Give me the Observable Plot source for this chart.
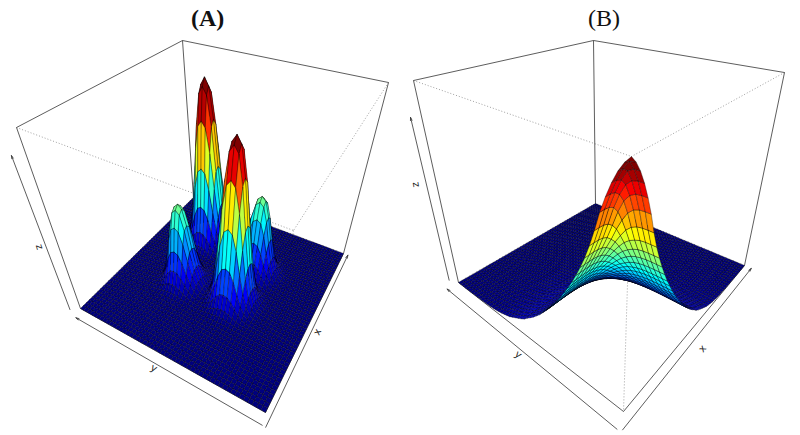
<!DOCTYPE html>
<html><head><meta charset="utf-8">
<script src="https://cdn.jsdelivr.net/npm/d3@7"></script>
<script src="https://cdn.jsdelivr.net/npm/@observablehq/plot@0.6"></script>
<style>
html,body{margin:0;padding:0;background:#fff;overflow:hidden}
#wrap{position:relative;width:800px;height:435px}
.panel{position:absolute;top:0;width:400px;height:435px}
.title{position:absolute;top:2px;font:24px "Liberation Serif",serif;color:#111;line-height:32px;height:36px}
.panel svg{position:absolute;top:36px;left:0;background:transparent}
</style></head><body><div id="wrap"></div>
<script>
// Jet ramp
const jet = ["#00007F","#0000FF","#007FFF","#00FFFF","#7FFF7F","#FFFF00","#FF7F00","#FF0000","#7F0000"];

// Panel titles
const titles = ["(A)", "(B)"];
const titleLeft = [191, 588];
const titleWeight = ["bold", "normal"];
const colorTop = [0.85, 0.92];

// Box calibration: corners in order back, right, front, left (page pixels)
const topA = [[182,40],[388,82],[293,230],[16,127]];
const botA = [[193,197],[343,253],[265,412],[80,308]];
const topB = [[593,40],[784,72],[631,156],[413,80]];
const botB = [[595,203],[744,265],[623,411],[458,282]];

// Panel A: mesh size and the four read peaks (row, column in cells, height)
const meshA = 50;
const peakRow = [14, 29, 30, 18];
const peakCol = [15, 31, 17, 32];
const peakHeight = [0.97, 0.92, 0.43, 0.43];
// slice through a peak, cells away from its crest
const peakSlice = [1, 0.95, 0.75, 0.47, 0.25, 0.11, 0.04, 0.014, 0.004];

// Panel B: mesh size and the slice read along the front edges, starting at the crest
const meshB = 50;
const sliceB = [1,.96,.9,.82,.73,.625,.54,.475,.42,.37,.33,.29,.255,.225,.195,.17,.145,.125,.105,.09,.072,.06,.05,.04,.03,.024,.018,.013,.01,.007,.005,.004,.003,.002,.001,.001,0,0,0,0,0];
const contourPower = [4];
const edgeStretch = [1.04, 1];

// Box edges in unit coordinates [a,b,z] -> [a,b,z]
const solidEdges = [[0,0,1,1,0,1],[0,0,1,0,1,1],[1,0,1,1,0,0],[0,1,1,0,1,0],[0,0,1,0,0,0],[1,0,0,1,1,0],[0,1,0,1,1,0]];
const dottedEdges = [[1,0,1,1,1,1],[0,1,1,1,1,1],[1,1,1,1,1,0]];

// Axis arrows and labels in unit coordinates (tail -> head)
const arrowsA = [[1.05,1.01,0,1.05,.02,0],[1.05,1.025,0,.0,1.025,0],[1.03,-.04,0,1.03,-.04,.85]];
const arrowsB = [[1.06,1.02,0,1.06,0,0],[1.05,1.035,0,0,1.035,0],[1.02,-.05,0,1.02,-.05,.81]];
const labelsA = [{t:"y",p:[1.07,.5,0],r:29},{t:"x",p:[.55,1.05,0],r:-65},{t:"z",p:[1.05,-.06,.35],r:-108}];
const labelsB = [{t:"y",p:[1.08,.55,0],r:38},{t:"x",p:[.6,1.08,0],r:-50},{t:"z",p:[1.03,-.135,.45],r:-100}];

function homography(q){
  const [[x0,y0],[x1,y1],[x2,y2],[x3,y3]] = q;
  const dx1=x1-x2,dx2=x3-x2,sx=x0-x1+x2-x3,dy1=y1-y2,dy2=y3-y2,sy=y0-y1+y2-y3;
  const den=dx1*dy2-dx2*dy1, g=(sx*dy2-dx2*sy)/den, h=(dx1*sy-sx*dy1)/den;
  const A=x1-x0+g*x1,B=x3-x0+h*x3,D=y1-y0+g*y1,E=y3-y0+h*y3;
  return (u,v)=>{const w=g*u+h*v+1;return [(A*u+B*v+x0)/w,(D*u+E*v+y0)/w];};
}
function projector(top,bot){
  const T=homography(top),B=homography(bot);
  return (a,b,z)=>{const t=T(b,a),s=B(b,a);return [s[0]+(t[0]-s[0])*z,s[1]+(t[1]-s[1])*z];};
}
function heightA(i,j){
  let v=0;
  peakRow.forEach((r,k)=>{
    const di=Math.abs(i-r),dj=Math.abs(j-peakCol[k]);
    if(di<peakSlice.length&&dj<peakSlice.length) v=Math.max(v,peakHeight[k]*peakSlice[di]*peakSlice[dj]);
  });
  return v;
}
// Table lookup of the read slice: each cell takes the slice value at its
// distance from the crest corner, the contours of the surface being rounded squares.
function heightB(i,j){
  const p=contourPower[0], n=sliceB.length-1;
  const d=Math.pow(Math.pow((meshB-i)*edgeStretch[0],p)+Math.pow((meshB-j)*edgeStretch[1],p),1/p)*n/meshB;
  const k=Math.min(Math.floor(d),n-1);
  return sliceB[k]+(sliceB[k+1]-sliceB[k])*Math.min(d-k,1);
}

function facets(mesh,zf,proj){
  const out=[];let id=0;
  for(let i=0;i<mesh;i++)for(let j=0;j<mesh;j++){
    const c=[[i,j],[i+1,j],[i+1,j+1],[i,j+1]];
    const zs=c.map(([p,q])=>zf(p,q));
    const v=d3.mean(zs);
    [0,1,2,3,0].forEach(k=>{
      const [x,y]=proj(c[k][0]/mesh,c[k][1]/mesh,zs[k]);
      out.push({x,y,id,v});
    });
    id++;
  }
  return out;
}
function links(list,proj){
  return list.map(e=>{const p=proj(e[0],e[1],e[2]),q=proj(e[3],e[4],e[5]);return {x1:p[0],y1:p[1],x2:q[0],y2:q[1]};});
}
function panel(k,xDomain,top,bot,mesh,zf,arrows,labels){
  const proj=projector(top,bot);
  const lab=labels.map(l=>{const p=proj(...l.p);return {x:p[0],y:p[1],t:l.t,r:l.r};});
  const lk={x1:"x1",y1:"y1",x2:"x2",y2:"y2"};
  const chart=Plot.plot({
    width:400,height:399,margin:0,
    x:{domain:xDomain,range:[0,400],axis:null},
    y:{domain:[36,435],range:[0,399],axis:null},
    color:{type:"linear",domain:[0,colorTop[k]],clamp:true,interpolate:d3.piecewise(d3.interpolateRgb,jet)},
    style:{background:"transparent",overflow:"visible"},
    marks:[
      Plot.link(links(dottedEdges,proj),{...lk,stroke:"#777",strokeWidth:.7,strokeDasharray:"1,2"}),
      Plot.link(links(solidEdges,proj),{...lk,stroke:"#333",strokeWidth:.8}),
      Plot.line(facets(mesh,zf,proj),{x:"x",y:"y",z:"id",fill:"v",stroke:"#000",strokeWidth:.4,strokeOpacity:.85}),
      Plot.arrow(links(arrows,proj),{...lk,stroke:"#333",strokeWidth:.8,headLength:6,headAngle:30}),
      Plot.text(lab,{x:"x",y:"y",text:"t",rotate:"r",fontSize:10,fontFamily:"DejaVu Sans",fill:"#222"})
    ]
  });
  const d=document.createElement("div");
  d.className="panel";d.style.left=xDomain[0]+"px";
  const t=document.createElement("div");
  t.className="title";t.textContent=titles[k];t.style.left=(titleLeft[k]-xDomain[0])+"px";t.style.fontWeight=titleWeight[k];
  d.appendChild(t);d.appendChild(chart);
  document.getElementById("wrap").appendChild(d);
}
panel(0,[0,400],topA,botA,meshA,heightA,arrowsA,labelsA);
panel(1,[400,800],topB,botB,meshB,heightB,arrowsB,labelsB);
</script></body></html>
